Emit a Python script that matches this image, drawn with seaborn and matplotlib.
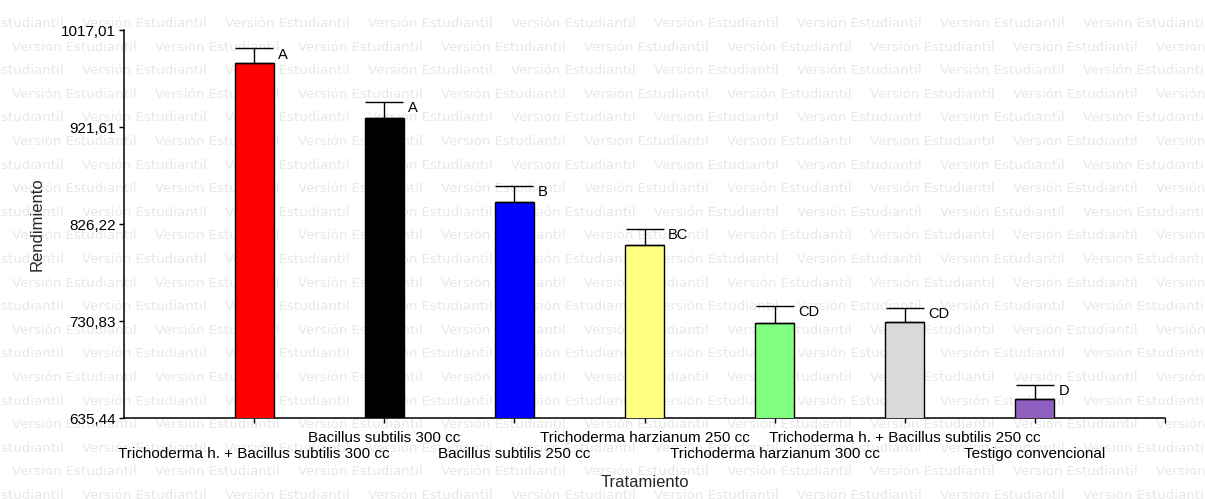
import matplotlib
matplotlib.use("Agg")
import matplotlib.pyplot as plt
import seaborn as sns
import pandas as pd

categories = [
    "Trichoderma h. + Bacillus subtilis 300 cc",
    "Bacillus subtilis 300 cc",
    "Bacillus subtilis 250 cc",
    "Trichoderma harzianum 250 cc",
    "Trichoderma harzianum 300 cc",
    "Trichoderma h. + Bacillus subtilis 250 cc",
    "Testigo convencional",
]
means = [984.2, 930.7, 847.9, 805.6, 729.1, 729.5, 653.8]
errors = [14.8, 15.7, 16.0, 15.7, 16.5, 14.4, 14.0]
letters = ["A", "A", "B", "BC", "CD", "CD", "D"]
colors = ["#ff0000", "#000000", "#0000ff", "#ffff80", "#80ff80", "#d9d9d9", "#9060c0"]
ytick_values = [635.44, 730.83, 826.22, 921.61, 1017.01]
ytick_labels = ["635,44", "730,83", "826,22", "921,61", "1017,01"]

sns.set_style("ticks")
plt.rcParams["font.family"] = ["Liberation Sans", "DejaVu Sans"]

W, H = 1205, 499
fig = plt.figure(figsize=(W / 100, H / 100), dpi=100)
fig.patch.set_facecolor("white")

# watermark
for k in range(22):
    yc = 22 + 23.6 * k
    x = -61 if k % 2 == 0 else 12
    while x < W:
        fig.text(x / W, 1 - (yc + 5) / H, "Versión Estudiantil", ha="left", va="baseline",
                 fontsize=9.6, family="DejaVu Sans", color="#e8e8e8", zorder=-5)
        x += 143

ax = fig.add_axes([124 / W, (H - 418) / H, (1165 - 124) / W, (418 - 30) / H])
ax.set_facecolor("none")

df = pd.DataFrame({"Tratamiento": categories, "Rendimiento": means})
sns.barplot(data=df, x="Tratamiento", y="Rendimiento", hue="Tratamiento",
            palette=colors, saturation=1, width=0.3, edgecolor="black", linewidth=1.0,
            legend=False, ax=ax, zorder=3)

xpos = list(range(len(categories)))
ax.errorbar(xpos, means, yerr=[[0] * len(errors), errors], fmt="none",
            ecolor="black", elinewidth=1.0, capsize=14, capthick=1.0, zorder=4)

for i, (m, e, lab) in enumerate(zip(means, errors, letters)):
    ax.annotate(lab, xy=(i + 0.15, m + e), xytext=(3, 0.5), textcoords="offset points",
                ha="left", va="top", fontsize=10.5, color="black")

ax.set_xlim(-1, 7)
ax.set_ylim(635.44, 1017.01)
ax.set_yticks(ytick_values)
ax.set_yticklabels(ytick_labels, fontsize=11)

odd = [i for i in xpos if i % 2 == 1]
even = [i for i in xpos if i % 2 == 0]
ax.set_xticks(odd + [7])
ax.set_xticklabels([categories[i] for i in odd] + [""], fontsize=11)
ax.set_xticks(even, minor=True)
ax.set_xticklabels([categories[i] for i in even], minor=True, fontsize=11)

ax.tick_params(axis="both", which="both", direction="out", length=3.6, width=1.0,
               color="black", labelcolor="black")
ax.tick_params(axis="x", which="major", pad=6)
ax.tick_params(axis="x", which="minor", pad=17)
ax.tick_params(axis="y", pad=2)
for s in ["top", "right"]:
    ax.spines[s].set_visible(False)
for s in ["left", "bottom"]:
    ax.spines[s].set_color("black")
    ax.spines[s].set_linewidth(1.1)

ax.set_xlabel("Tratamiento", fontsize=12)
ax.set_ylabel("Rendimiento", fontsize=12)
ax.xaxis.set_label_coords(0.5, -0.147)
ax.yaxis.set_label_coords(-0.076, 0.5)

fig.savefig("out.png", dpi=100, facecolor="white")
